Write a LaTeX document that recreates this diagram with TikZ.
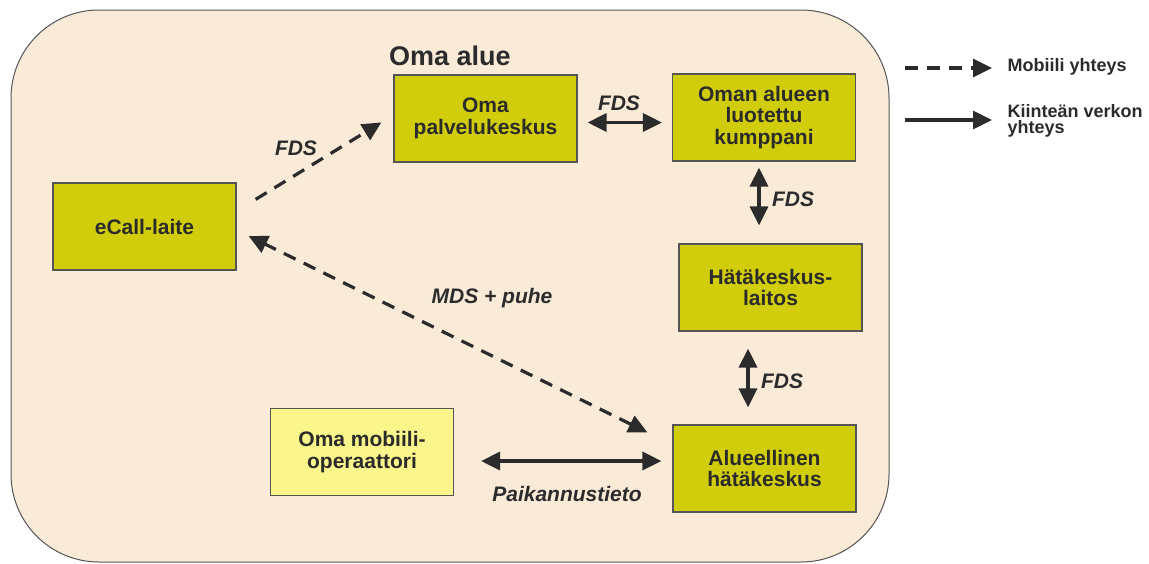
\documentclass[tikz,border=0pt]{standalone}
\usepackage{fontspec}
\setmainfont{Liberation Sans}
\usetikzlibrary{arrows.meta}
\definecolor{areabg}{RGB}{250,235,217}
\definecolor{olivebox}{RGB}{210,205,10}
\definecolor{palebox}{RGB}{250,246,140}
\definecolor{ink}{RGB}{43,43,43}
\tikzset{
	% Two box styles: olive for the actors, pale for the operator
	olive box/.style={draw=ink!80,line width=1.2pt,fill=olivebox,minimum width=183pt,minimum height=87pt,align=center,text=ink,inner sep=2pt,font=\fontsize{21}{21.5}\selectfont\bfseries},
	pale box/.style={olive box,fill=palebox},
	% Two link styles: mobile (dashed) and fixed network (solid)
	mobile link/.style={draw=ink,line width=3.2pt,dash pattern=on 13pt off 9pt},
	fixed link/.style={draw=ink,line width=3.2pt},
	link label/.style={text=ink,font=\fontsize{21}{22}\selectfont\bfseries\itshape},
	legend text/.style={text=ink,align=left,anchor=west,font=\fontsize{18}{16}\selectfont\bfseries}
}
\begin{document}
\begin{tikzpicture}[x=1pt,y=-1pt,>={Triangle[length=19pt,width=18pt]}]
	% macro for the link labels
	\newcommand{\linklabel}[3]{\node[link label](#1)at(#2){#3};}
	\useasboundingbox (0,0) rectangle (1149,563);
	% the own area
	\draw[draw=ink!80,line width=1pt,fill=areabg,rounded corners=88pt] (11,10) rectangle (889,562);
	\node(area)[text=ink,font=\fontsize{27}{30}\selectfont\bfseries] at (450,56) {Oma alue};
	
	\node(ecall)[olive box] at (144.5,226.5) {eCall-laite};
	\node(pk)[olive box] at (485.5,118.5) {Oma\\palvelukeskus};
	\node(kump)[olive box] at (764,117.5) {Oman alueen\\luotettu\\kumppani};
	\node(hk)[olive box] at (770.5,287.5) {Hätäkeskus-\\laitos};
	\node(ah)[olive box] at (764.5,468.5) {Alueellinen\\hätäkeskus};
	\node(mob)[pale box] at (362,452) {Oma mobiili-\\operaattori};
	
	\draw[mobile link,->] ([xshift=19pt,yshift=-17pt]ecall.north east) -- ([xshift=-12pt,yshift=-48pt]pk.north west);
	\draw[fixed link,<->,shorten <=10pt,shorten >=10pt] ([yshift=-4pt]pk.east) -- ([yshift=-4pt]pk.east -| kump.west);
	\draw[fixed link,<->,shorten <=6pt,shorten >=18pt] ([xshift=-5pt]kump.south) -- ([xshift=-5pt]kump.south |- hk.north);
	\draw[fixed link,<->,shorten <=17pt,shorten >=17pt] ([xshift=-22.5pt]hk.south) -- ([xshift=-22.5pt]hk.south |- ah.north);
	\draw[fixed link,<->,shorten <=27pt,shorten >=11pt] ([yshift=-9pt]mob.east) -- ([yshift=-9pt]mob.east -| ah.west);
	\draw[mobile link,<->] ([xshift=-25pt,yshift=-8pt]ah.north west) -- ([xshift=12pt,yshift=-9.5pt]ecall.east);
	
	\linklabel{fds1}{296,148}{FDS}
	\linklabel{fds2}{619,103}{FDS}
	\linklabel{fds3}{793,199}{FDS}
	\linklabel{fds4}{782,381}{FDS}
	\linklabel{mds}{492,298}{MDS + puhe}
	\linklabel{paik}{567,494}{Paikannustieto}
	
	% legend
	\node(mobtext)[legend text] at (1004,67) {Mobiili yhteys};
	\node(fixtext)[legend text] at (1004,120.5) {Kiinteän verkon\\yhteys};
	\coordinate(mobstart) at (905,68);
	\coordinate(fixstart) at (905,120);
	\draw[mobile link,->,shorten >=12pt] (mobstart) -- (mobstart -| mobtext.west);
	\draw[fixed link,->,shorten >=12pt] (fixstart) -- (fixstart -| fixtext.west);
\end{tikzpicture}
\end{document}
